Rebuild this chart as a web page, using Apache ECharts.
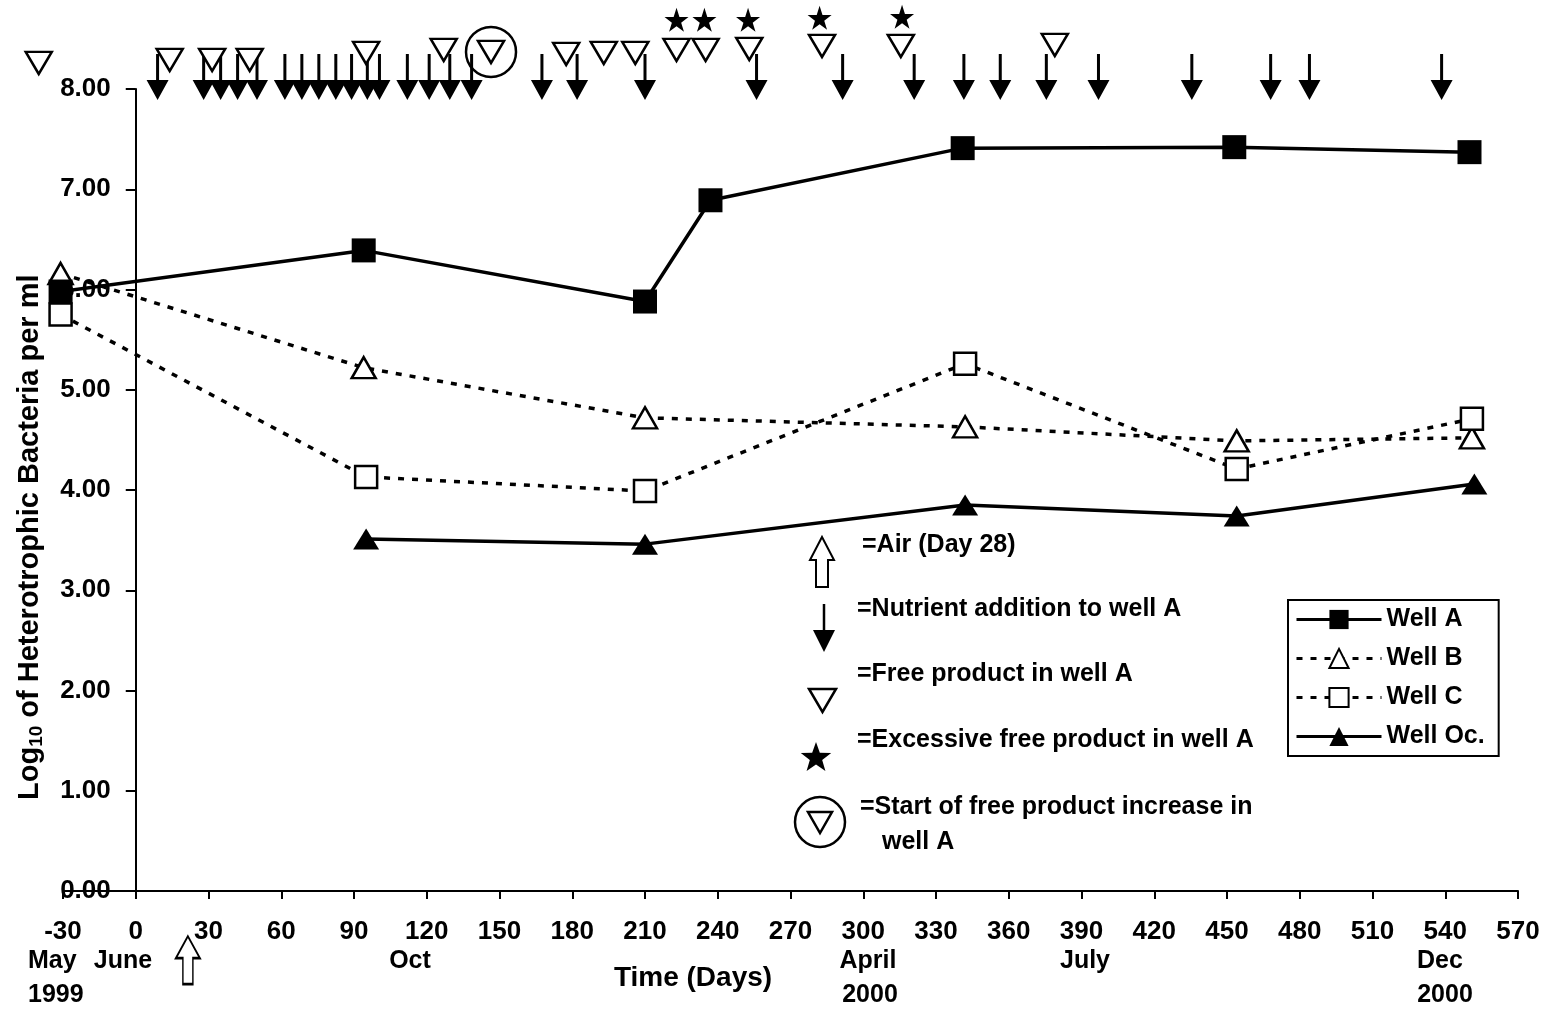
<!DOCTYPE html>
<html><head><meta charset="utf-8">
<script src="https://cdn.jsdelivr.net/npm/echarts@6/dist/echarts.min.js"></script>
<style>html,body{margin:0;padding:0;background:#fff}#c{width:1552px;height:1010px}</style>
</head><body><div id="c"></div>
<script>
// ---- data ----
const xTicks = { min: -30, max: 570, interval: 30 };
const wellADays = [-31, 94, 210, 237, 341, 453, 550];
const wellA     = [5.98, 6.39, 5.88, 6.89, 7.41, 7.42, 7.37];
const wellBDays = [-31, 94, 210, 342, 454, 551];
const wellB     = [6.16, 5.22, 4.72, 4.63, 4.49, 4.52];
const wellCDays = [-31, 95, 210, 342, 454, 551];
const wellC     = [5.75, 4.13, 3.99, 5.26, 4.21, 4.71];
const wellOcDays = [95, 210, 342, 454, 552];
const wellOc     = [3.51, 3.46, 3.85, 3.74, 4.06];
// event markers drawn above the 8.00 line (value = level on the log axis)
const nutrientDays = [9, 28, 35, 42, 50, 61.5, 68.5, 75.5, 82.5, 89, 95.5, 100.5, 112, 121, 129.5, 138.5,
                      167.5, 182, 210, 256, 291.5, 321, 341.5, 356.5, 375.5, 397, 435.5, 468, 484, 538.5];
const nutrientLevel = 8.12;
const freeProductDays   = [-40, 14, 31.5, 47, 95, 127, 146.5, 177.5, 193, 206, 223, 235, 253, 283, 315.5, 379];
const freeProductLevels = [8.26, 8.29, 8.29, 8.29, 8.36, 8.39, 8.37, 8.35, 8.36, 8.36, 8.39, 8.39, 8.40, 8.43, 8.43, 8.44];
const excessDays   = [223, 234.5, 252.5, 282, 316];
const excessLevels = [8.69, 8.69, 8.69, 8.71, 8.72];
const startIncreaseDay = 146.5, startIncreaseLevel = 8.37;
const airDay = 21.5, airLevel = -0.69;
const seriesNames = ['Well A', 'Well B', 'Well C', 'Well Oc.'];

const FONT = "'Liberation Sans', Arial, sans-serif";
const zip = (xs, ys) => xs.map((x, i) => [x, ys[i]]);

const arrowPath = 'path://M9.5,0 L12.5,0 L12.5,26 L22,26 L11,46 L0,26 L9.5,26 Z';
const openUpArrow = 'path://M12,0 L24,22 L17,22 L17,48 L7,48 L7,22 L0,22 Z';
const starPath = 'path://M50,0 L61.8,35.3 L99,35.3 L69,57.2 L80.4,92.7 L50,70.8 L19.6,92.7 L31,57.2 L1,35.3 L38.2,35.3 Z';

function starPoints(cx, cy, R, r) {
  const pts = [];
  for (let i = 0; i < 10; i++) {
    const a = -Math.PI / 2 + i * Math.PI / 5;
    const rad = i % 2 === 0 ? R : r;
    pts.push([cx + rad * Math.cos(a), cy + rad * Math.sin(a)]);
  }
  return pts;
}

const W = 1552;
const GRID = { left: 63, right: 34, top: 89, bottom: 119 };
// y axis crosses the x axis at day 0
const yAxisShift = (0 - xTicks.min) / (xTicks.max - xTicks.min) * (W - GRID.left - GRID.right);

const chart = echarts.init(document.getElementById('c'), null, { renderer: 'canvas' });

const mctx = document.createElement('canvas').getContext('2d');
function tw(t, size) { mctx.font = 'bold ' + size + 'px ' + FONT; return mctx.measureText(t).width; }

const txt = (t, x, y, size, align) => ({
  type: 'text', x: x, y: y, silent: true,
  style: { text: t, fill: '#000', font: 'bold ' + size + 'px ' + FONT, textAlign: align || 'left', textVerticalAlign: 'middle' }
});

const titleSize = 29, subSize = 19;
const wLog = tw('Log', titleSize), w10 = tw('10', subSize);

const graphic = [
  txt('May', 28, 961, 25), txt('1999', 28, 995, 25),
  txt('June', 123, 961, 25, 'center'),
  txt('Oct', 410, 961, 25, 'center'),
  txt('Time (Days)', 693, 978, 28, 'center'),
  txt('April', 868, 961, 25, 'center'), txt('2000', 870, 995, 25, 'center'),
  txt('July', 1085, 961, 25, 'center'),
  txt('Dec', 1440, 961, 25, 'center'), txt('2000', 1445, 995, 25, 'center'),
  { type: 'group', x: 30, y: 800, rotation: Math.PI / 2, silent: true, children: [
      { type: 'text', x: 0, y: 0, style: { text: 'Log', fill: '#000', font: 'bold ' + titleSize + 'px ' + FONT, textVerticalAlign: 'middle' } },
      { type: 'text', x: wLog, y: 7, style: { text: '10', fill: '#000', font: 'bold ' + subSize + 'px ' + FONT, textVerticalAlign: 'middle' } },
      { type: 'text', x: wLog + w10, y: 0, style: { text: ' of Heterotrophic Bacteria per ml', fill: '#000', font: 'bold ' + titleSize + 'px ' + FONT, textVerticalAlign: 'middle' } }
  ]},
  { type: 'polygon', silent: true, shape: { points: [[822,537],[834,560],[828,560],[828,587],[816,587],[816,560],[810,560]] }, style: { fill: '#fff', stroke: '#000', lineWidth: 2 } },
  txt('=Air (Day 28)', 862, 545, 25),
  { type: 'line', silent: true, shape: { x1: 824, y1: 604, x2: 824, y2: 632 }, style: { stroke: '#000', lineWidth: 2.5 } },
  { type: 'polygon', silent: true, shape: { points: [[813,630],[835,630],[824,652]] }, style: { fill: '#000' } },
  txt('=Nutrient addition to well A', 857, 609, 25),
  { type: 'polygon', silent: true, shape: { points: [[809,689],[836,689],[822.5,712]] }, style: { fill: '#fff', stroke: '#000', lineWidth: 2.5 } },
  txt('=Free product in well A', 857, 674, 25),
  { type: 'polygon', silent: true, shape: { points: starPoints(816, 758, 16, 6.5) }, style: { fill: '#000' } },
  txt('=Excessive free product in well A', 857, 740, 25),
  { type: 'circle', silent: true, shape: { cx: 820, cy: 822, r: 25 }, style: { fill: 'none', stroke: '#000', lineWidth: 2.5 } },
  { type: 'polygon', silent: true, shape: { points: [[808,812],[832,812],[820,833]] }, style: { fill: '#fff', stroke: '#000', lineWidth: 2.5 } },
  txt('=Start of free product increase in', 860, 807, 25),
  txt('well A', 882, 842, 25)
];

const markerScatter = (name, data, symbol, size, style, extra) => Object.assign({
  name: name, type: 'scatter', data: data, symbol: symbol, symbolSize: size,
  clip: false, silent: true, z: 5, itemStyle: Object.assign({ opacity: 1 }, style)
}, extra || {});

chart.setOption({
  animation: false,
  backgroundColor: '#fff',
  textStyle: { fontFamily: FONT },
  grid: Object.assign({ containLabel: false, outerBoundsMode: 'none' }, GRID),
  xAxis: {
    type: 'value', min: xTicks.min, max: xTicks.max, interval: xTicks.interval,
    axisLine: { lineStyle: { color: '#000', width: 2 } },
    axisTick: { length: 8, lineStyle: { color: '#000', width: 2 } },
    axisLabel: { color: '#000', fontSize: 26, fontWeight: 'bold', fontFamily: FONT, margin: 28 },
    splitLine: { show: false }
  },
  yAxis: {
    type: 'value', min: 0, max: 8, interval: 1, position: 'left', offset: -yAxisShift,
    axisLine: { show: true, onZero: false, lineStyle: { color: '#000', width: 2 } },
    axisTick: { show: true, length: 10, lineStyle: { color: '#000', width: 2 } },
    axisLabel: { color: '#000', fontSize: 26, fontWeight: 'bold', fontFamily: FONT, margin: 25, formatter: v => v.toFixed(2) },
    splitLine: { show: false }
  },
  legend: {
    data: seriesNames, orient: 'vertical', left: 1288, top: 600,
    itemWidth: 85, itemHeight: 24, itemGap: 14,
    padding: [7, 14, 7, 7],
    borderColor: '#000', borderWidth: 2, backgroundColor: '#fff',
    lineStyle: { width: 3 },
    textStyle: { color: '#000', fontSize: 25, fontWeight: 'bold', fontFamily: FONT },
    selectedMode: false
  },
  graphic: graphic,
  series: [
    { name: 'Well A', type: 'line', data: zip(wellADays, wellA), symbol: 'rect', symbolSize: 24, clip: false,
      lineStyle: { color: '#000', width: 3.5 }, itemStyle: { color: '#000' }, z: 3 },
    { name: 'Well B', type: 'line', data: zip(wellBDays, wellB), symbol: 'triangle', symbolSize: [24, 21], clip: false,
      lineStyle: { color: '#000', width: 3.5, type: [6, 8] }, itemStyle: { color: '#fff', borderColor: '#000', borderWidth: 2.5 }, z: 2 },
    { name: 'Well C', type: 'line', data: zip(wellCDays, wellC), symbol: 'rect', symbolSize: 22, clip: false,
      lineStyle: { color: '#000', width: 3.5, type: [6, 8] }, itemStyle: { color: '#fff', borderColor: '#000', borderWidth: 2.5 }, z: 2 },
    { name: 'Well Oc.', type: 'line', data: zip(wellOcDays, wellOc), symbol: 'triangle', symbolSize: [26, 21], clip: false,
      lineStyle: { color: '#000', width: 3.5 }, itemStyle: { color: '#000' }, z: 3 },
    markerScatter('Nutrient addition to well A', nutrientDays.map(d => [d, nutrientLevel]), arrowPath, [22, 46], { color: '#000' }),
    markerScatter('Free product in well A', zip(freeProductDays, freeProductLevels), 'triangle', [26, 22],
      { color: '#fff', borderColor: '#000', borderWidth: 2.5 }, { symbolRotate: 180 }),
    markerScatter('Excessive free product in well A', zip(excessDays, excessLevels), starPath, 24, { color: '#000' }),
    markerScatter('Start of free product increase', [[startIncreaseDay, startIncreaseLevel]], 'circle', 50,
      { color: 'rgba(0,0,0,0)', borderColor: '#000', borderWidth: 2.5 }),
    markerScatter('Air', [[airDay, airLevel]], openUpArrow, [24, 48], { color: '#fff', borderColor: '#000', borderWidth: 2 })
  ]
});
</script></body></html>
